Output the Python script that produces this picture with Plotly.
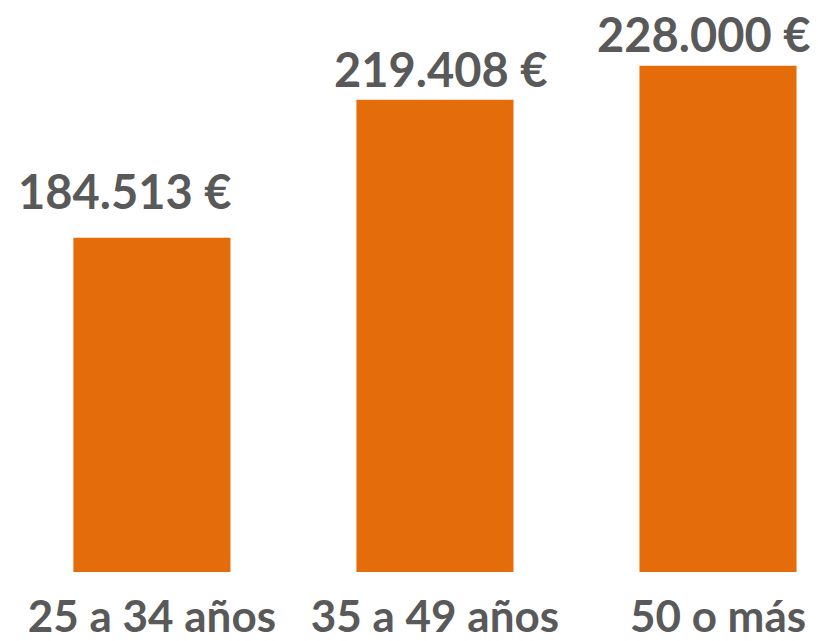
import plotly.graph_objects as go

categories = ["25 a 34 años", "35 a 49 años", "50 o más"]
values = [184513, 219408, 228000]
value_labels = ["184.513 €", "219.408 €", "228.000 €"]

FONT = "Lato, sans-serif"
GREY = "#595959"
ORANGE = "#E46C0A"

fig = go.Figure(go.Bar(
    x=categories, y=values,
    marker=dict(color=ORANGE, line=dict(width=0)),
    width=0.555,
    hoverinfo="skip",
))

label_xshift = [-27, 6, -15]
label_yshift = [18, 2, 3]
for c, v, t, dx, dy in zip(categories, values, value_labels, label_xshift, label_yshift):
    fig.add_annotation(
        x=c, y=v, text=f"<b>{t}</b>", showarrow=False,
        xanchor="center", yanchor="bottom", xshift=dx, yshift=dy,
        borderpad=0,
        font=dict(family=FONT, size=47, color=GREY),
    )

fig.update_layout(
    width=818, height=641,
    margin=dict(l=0, r=0, t=0, b=77),
    paper_bgcolor="white", plot_bgcolor="white",
    showlegend=False,
    xaxis=dict(
        range=[-0.5085, 2.3815], showgrid=False, zeroline=False, showline=False,
        ticks="", tickangle=0, automargin=False, ticklabelstandoff=15,
        tickfont=dict(family=FONT, size=44, color=GREY),
        tickprefix="<b>", ticksuffix="</b>",
    ),
    yaxis=dict(range=[100000, 242600], visible=False),
)

fig.write_html("out.html")
